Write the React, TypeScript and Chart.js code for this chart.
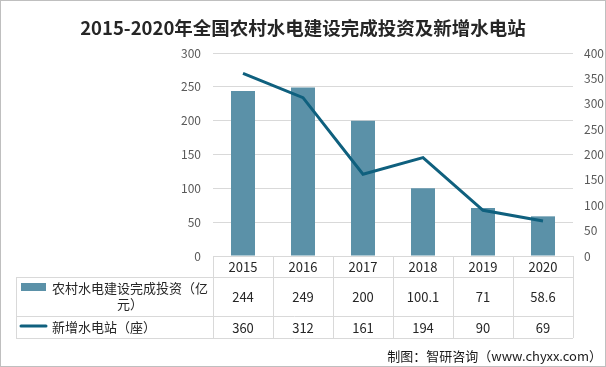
import React, { useEffect, useRef } from "react";
import { Chart, registerables } from "chart.js";

Chart.register(...registerables);

const title = "2015-2020年全国农村水电建设完成投资及新增水电站";
const footer = "制图：智研咨询（www.chyxx.com）";
const categories = ["2015", "2016", "2017", "2018", "2019", "2020"];
const investment = [244, 249, 200, 100.1, 71, 58.6];
const investmentLabels = ["244", "249", "200", "100.1", "71", "58.6"];
const newStations = [360, 312, 161, 194, 90, 69];
const newStationLabels = ["360", "312", "161", "194", "90", "69"];
const seriesNames = ["农村水电建设完成投资（亿元）", "新增水电站（座）"];
const leftTicks = [0, 50, 100, 150, 200, 250, 300];
const rightTicks = [0, 50, 100, 150, 200, 250, 300, 350, 400];

const BAR_COLOR = "#5b91a8";
const LINE_COLOR = "#0f607e";
const GRID = "#d9d9d9";
const FONT = "'Noto Sans CJK SC', 'Noto Sans', sans-serif";

const tablePlugin = {
  id: "tablePlugin",
  beforeDraw(chart: any) {
    const ctx = chart.ctx;
    ctx.save();
    ctx.fillStyle = "#ffffff";
    ctx.fillRect(0, 0, chart.width, chart.height);
    ctx.restore();
  },
  afterDraw(chart: any) {
    const ctx = chart.ctx;
    const x = chart.scales.x;
    const area = chart.chartArea;
    const left = 16;
    const colL = area.left;
    const right = area.right;
    const top = area.bottom;
    const r1 = top + 21;
    const r2 = r1 + 39;
    const r3 = r2 + 22;
    ctx.save();
    // outer border
    ctx.strokeStyle = "#bfbfbf";
    ctx.lineWidth = 1;
    ctx.strokeRect(0.5, 0.5, chart.width - 1, chart.height - 1);

    // title
    ctx.fillStyle = "#262626";
    ctx.font = `bold 18.5px ${FONT}`;
    ctx.textAlign = "center";
    ctx.textBaseline = "middle";
    ctx.fillText(title, chart.width / 2, 28);

    // table lines
    ctx.strokeStyle = GRID;
    ctx.lineWidth = 1;
    const hline = (y: number, x0: number, x1: number) => {
      ctx.beginPath();
      ctx.moveTo(x0, Math.round(y) + 0.5);
      ctx.lineTo(x1, Math.round(y) + 0.5);
      ctx.stroke();
    };
    const vline = (xx: number, y0: number, y1: number) => {
      ctx.beginPath();
      ctx.moveTo(Math.round(xx) + 0.5, y0);
      ctx.lineTo(Math.round(xx) + 0.5, y1);
      ctx.stroke();
    };
    hline(top, colL, right);
    hline(r1, left, right);
    hline(r2, left, right);
    hline(r3, left, right);
    vline(left, r1, r3);
    const step = (right - colL) / categories.length;
    for (let i = 0; i <= categories.length; i++) {
      vline(colL + step * i, top, r3);
    }

    // header & values
    ctx.fillStyle = "#262626";
    ctx.font = `13px ${FONT}`;
    ctx.textAlign = "center";
    categories.forEach((c, i) => {
      const cx = x.getPixelForValue(i);
      ctx.fillText(c, cx, (top + r1) / 2 + 1);
      ctx.fillText(investmentLabels[i], cx, (r1 + r2) / 2 + 1);
      ctx.fillText(newStationLabels[i], cx, (r2 + r3) / 2 + 1);
    });

    // legend swatches
    ctx.fillStyle = BAR_COLOR;
    ctx.fillRect(21, 283, 25, 8);
    ctx.strokeStyle = LINE_COLOR;
    ctx.lineWidth = 3;
    ctx.lineCap = "round";
    ctx.beginPath();
    ctx.moveTo(21, 326);
    ctx.lineTo(46, 326);
    ctx.stroke();

    // legend texts
    ctx.fillStyle = "#262626";
    ctx.font = `13px ${FONT}`;
    const name1 = seriesNames[0];
    const line1 = name1.slice(0, 12);
    const line2 = name1.slice(12);
    ctx.textAlign = "center";
    ctx.fillText(line1, 130, 288);
    ctx.fillText(line2, 130, 304);
    ctx.textAlign = "left";
    ctx.fillText(seriesNames[1], 52, 327);

    // footer
    ctx.textAlign = "right";
    ctx.font = `13px ${FONT}`;
    ctx.fillStyle = "#1a1a1a";
    ctx.fillText(footer, 602, 356);
    ctx.restore();
  },
};

export default function App() {
  const ref = useRef<HTMLCanvasElement>(null);
  useEffect(() => {
    if (!ref.current) return;
    const chart = new Chart(ref.current, {
      type: "bar",
      data: {
        labels: categories,
        datasets: [
          {
            type: "line",
            label: seriesNames[1],
            data: newStations,
            yAxisID: "y1",
            borderColor: LINE_COLOR,
            backgroundColor: LINE_COLOR,
            borderWidth: 3,
            pointRadius: 0,
            tension: 0,
            order: 0,
          },
          {
            type: "bar",
            label: seriesNames[0],
            data: investment,
            yAxisID: "y",
            backgroundColor: BAR_COLOR,
            categoryPercentage: 1,
            barPercentage: 0.4,
            order: 1,
          },
        ],
      },
      plugins: [tablePlugin],
      options: {
        animation: false,
        responsive: false,
        devicePixelRatio: 1,
        layout: { padding: { top: 53, bottom: 111, left: 0, right: 0 } },
        plugins: {
          legend: { display: false },
          title: { display: false },
          tooltip: { enabled: false },
        },
        scales: {
          x: {
            offset: true,
            grid: { display: false, drawTicks: false },
            border: { display: false },
            ticks: { display: false },
            afterFit: (s: any) => {
              s.height = 0;
            },
          },
          y: {
            position: "left",
            min: 0,
            max: 300,
            afterBuildTicks: (s: any) => {
              s.ticks = leftTicks.map((v) => ({ value: v }));
            },
            grid: { color: GRID, drawTicks: false },
            border: { display: false },
            ticks: { color: "#595959", padding: 12, font: { size: 12, family: FONT } },
            afterFit: (s: any) => {
              s.width = 213;
            },
          },
          y1: {
            position: "right",
            min: 0,
            max: 400,
            afterBuildTicks: (s: any) => {
              s.ticks = rightTicks.map((v) => ({ value: v }));
            },
            grid: { display: false, drawTicks: false },
            border: { display: false },
            ticks: { color: "#595959", padding: 11, font: { size: 12, family: FONT } },
            afterFit: (s: any) => {
              s.width = 33;
            },
          },
        },
      },
    } as any);
    return () => chart.destroy();
  }, []);
  return (
    <div style={{ position: "fixed", left: 0, top: 0, width: 606, height: 367 }}>
      <canvas ref={ref} width={606} height={367} style={{ width: 606, height: 367 }} />
    </div>
  );
}
